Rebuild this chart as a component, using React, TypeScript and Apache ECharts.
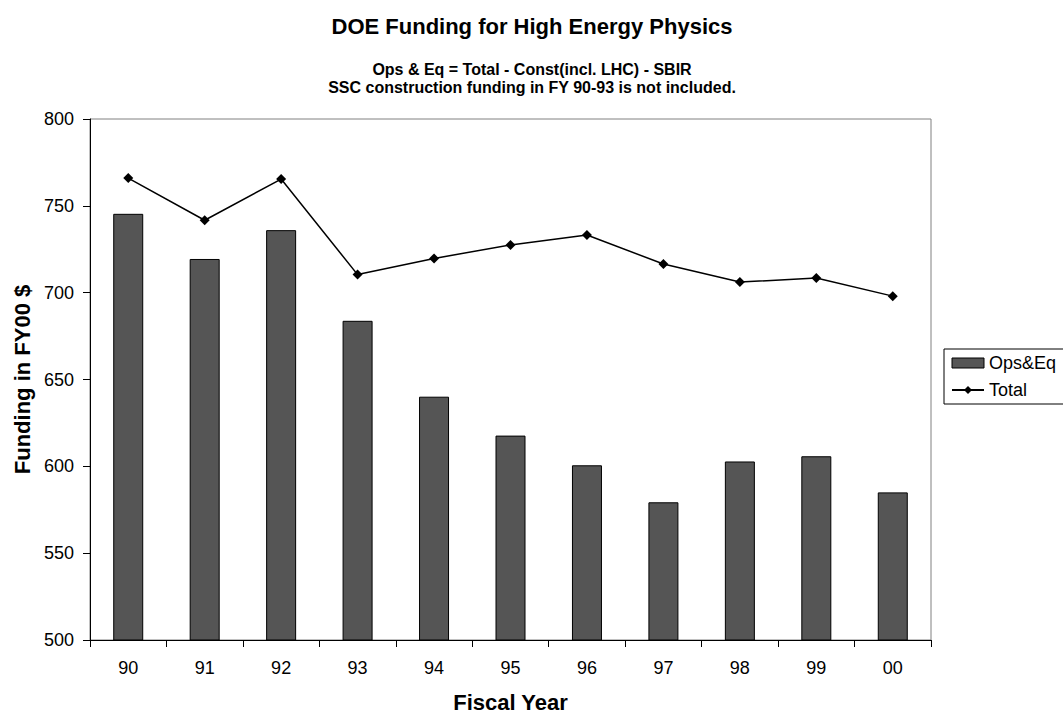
import React, { useEffect, useRef } from "react";
import * as echarts from "echarts";

const categories = ["90", "91", "92", "93", "94", "95", "96", "97", "98", "99", "00"];
const opsEq = [745.4, 719.4, 736, 683.8, 640.1, 617.7, 600.6, 579.3, 602.8, 605.8, 585];
const total = [766, 741.7, 765.4, 710.4, 719.7, 727.5, 733.2, 716.5, 706.1, 708.4, 698];
const yTicks = { min: 500, max: 800, interval: 50 };

const FONT = "'Liberation Sans', Arial, sans-serif";

export default function App() {
  const ref = useRef<HTMLDivElement>(null);
  useEffect(() => {
    document.body.style.margin = "0";
    const chart = echarts.init(ref.current!, null, { renderer: "svg" });
    chart.setOption({
      animation: false,
      backgroundColor: "#ffffff",
      textStyle: { fontFamily: FONT, color: "#000" },
      title: [
        {
          text: "DOE Funding for High Energy Physics",
          left: 527,
          textAlign: "center",
          top: 10,
          textStyle: { fontSize: 22, fontWeight: "bold", color: "#000", fontFamily: FONT },
        },
        {
          text: "Ops & Eq = Total - Const(incl. LHC) - SBIR\nSSC construction funding in FY 90-93 is not included.",
          left: 527,
          textAlign: "center",
          top: 55,
          textStyle: { fontSize: 16, fontWeight: "bold", lineHeight: 18, color: "#000", fontFamily: FONT },
        },
      ],
      legend: {
        orient: "vertical",
        left: 944,
        top: 349,
        padding: [5, 30, 5, 7],
        itemGap: 9,
        itemWidth: 32,
        itemHeight: 10,
        borderColor: "#000",
        borderWidth: 1,
        textStyle: { fontSize: 18, color: "#000", fontFamily: FONT },
        data: [
          { name: "Ops&Eq", icon: "rect", itemStyle: { color: "#555555", borderColor: "#000", borderWidth: 1 } },
          { name: "Total" },
        ],
      },
      grid: {
        left: 90,
        right: 132,
        top: 119,
        bottom: 73,
        show: true,
        borderColor: "#808080",
        borderWidth: 1,
        containLabel: false,
        outerBoundsMode: "none",
      },
      xAxis: {
        type: "category",
        data: categories,
        boundaryGap: true,
        name: "Fiscal Year",
        nameLocation: "middle",
        nameGap: 51,
        nameTextStyle: { fontSize: 22, fontWeight: "bold", color: "#000", fontFamily: FONT },
        axisLine: { lineStyle: { color: "#000", width: 1 } },
        axisTick: { show: true, length: 7, lineStyle: { color: "#000" } },
        axisLabel: { fontSize: 18, color: "#000", margin: 19, fontFamily: FONT },
        splitLine: { show: false },
      },
      yAxis: {
        type: "value",
        min: yTicks.min,
        max: yTicks.max,
        interval: yTicks.interval,
        name: "Funding in FY00 $",
        nameLocation: "middle",
        nameGap: 55,
        nameTextStyle: { fontSize: 22, fontWeight: "bold", color: "#000", fontFamily: FONT },
        axisLine: { show: true, lineStyle: { color: "#000", width: 1 } },
        axisTick: { show: true, length: 7, lineStyle: { color: "#000" } },
        axisLabel: { fontSize: 18, color: "#000", margin: 16, fontFamily: FONT },
        splitLine: { show: false },
      },
      series: [
        {
          name: "Ops&Eq",
          type: "bar",
          data: opsEq,
          barWidth: 30,
          itemStyle: { color: "#555555", borderColor: "#000", borderWidth: 1 },
        },
        {
          name: "Total",
          type: "line",
          data: total,
          symbol: "diamond",
          symbolSize: 10,
          lineStyle: { color: "#000", width: 1.5 },
          itemStyle: { color: "#000" },
        },
      ],
    });
    return () => chart.dispose();
  }, []);
  return <div ref={ref} style={{ width: 1063, height: 713 }} />;
}
